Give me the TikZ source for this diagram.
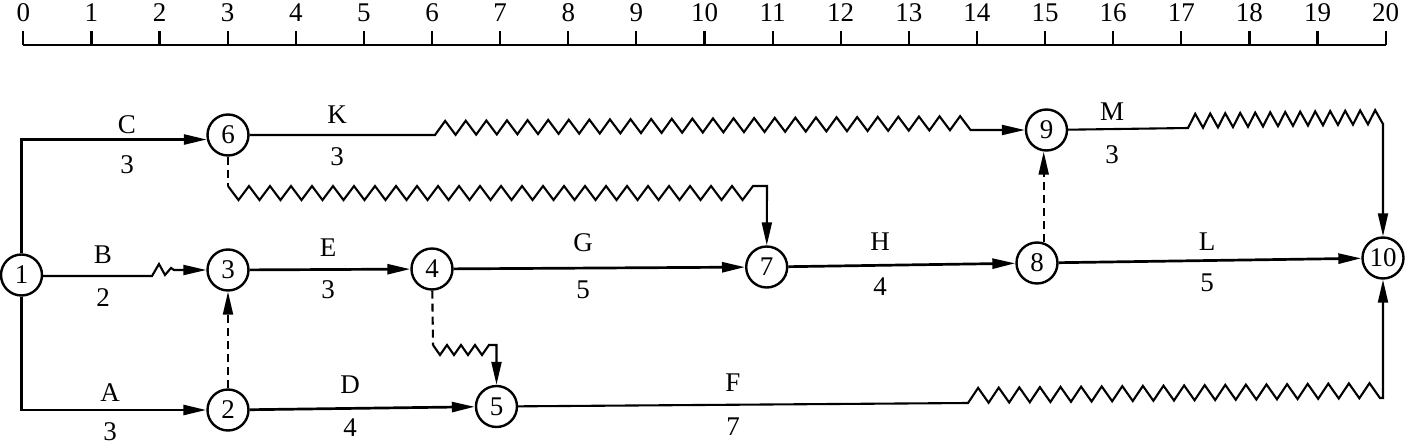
\documentclass[tikz,border=0pt]{standalone}
\usepackage{fontspec}
\setmainfont{Liberation Serif}
\usetikzlibrary{arrows.meta,decorations}
\pgfdeclaredecoration{updown}{initial}{
  \state{initial}[width=\pgfdecorationsegmentlength]{
    \pgfpathlineto{\pgfqpoint{0.5\pgfdecorationsegmentlength}{\pgfdecorationsegmentamplitude}}
    \pgfpathlineto{\pgfqpoint{\pgfdecorationsegmentlength}{0pt}}
  }
  \state{final}{\pgfpathlineto{\pgfpointdecoratedpathlast}}
}
\tikzset{
  nd/.style={circle,draw,line width=1.2pt,minimum size=20.5pt,inner sep=0pt,font=\fontsize{13.5}{15}\selectfont},
  lbl/.style={inner sep=0pt,font=\fontsize{13.5}{15}\selectfont},
  thickln/.style={line width=1.35pt},
  thinln/.style={line width=1.05pt},
  arr/.style={-{Triangle[length=11.5pt,width=5pt]}},
  dsh/.style={dash pattern=on 4pt off 2.5pt},
}
\begin{document}
\begin{tikzpicture}[x=0.5pt,y=-0.5pt,line join=miter]
\useasboundingbox (0,0) rectangle (1405,445);
% time axis
\draw[line width=1.3pt] (23.3,45) -- (1385.7,45);
\foreach \i in {0,...,20}{
  \draw[line width=1.1pt] ({23.3+68.12*\i},31) -- ({23.3+68.12*\i},45);
  \node[lbl] (t\i) at ({23.3+68.12*\i},13) {\i};
}
% nodes
\node[nd] (n1) at (21.5,275) {1};
\node[nd] (n6) at (228,135) {6};
\node[nd] (n3) at (228,270) {3};
\node[nd] (n2) at (228,410) {2};
\node[nd] (n4) at (432,269) {4};
\node[nd] (n5) at (496.5,406.5) {5};
\node[nd] (n7) at (766.7,267) {7};
\node[nd] (n8) at (1037,263) {8};
\node[nd] (n9) at (1046.5,130) {9};
\node[nd] (n10) at (1383,258) {10};
% helper coordinates
\coordinate (b1) at (152,276);
\coordinate (b2) at (174,270);
\coordinate (k1) at (435,135);
\coordinate (k2) at (975,130);
\coordinate (m1) at (1188,128);
\coordinate (m2) at (1383,124);
\coordinate (f1) at (968,403);
\coordinate (f2) at (1383,398);
\coordinate (c1) at (228,186);
\coordinate (c2) at (767,186);
\coordinate (d1) at (433,345);
\coordinate (d2) at (496.5,345);
% activities
\draw[thickln,arr] (n1) |- (n6.192);
\draw[thickln,arr] (n1) |- (n2);
\draw[thinln,arr] (n1.east |- b1) -- (b1) -- (159,264) -- (165,275) -- (171,268) -- (b2) -- (n3);
\draw[thickln,arr] (n3) -- (n4);
\draw[thickln,arr] (n4) -- (n7);
\draw[thickln,arr] (n7) -- (n8);
\draw[thickln,arr] (n8) -- (n10);
\draw[thickln,arr] (n2) -- (n5);
\draw[thinln,arr] (n6) -- (k1) decorate[decoration={updown,segment length=10.3pt,amplitude=7pt}] {-- (k2)} -- (n9);
\draw[thinln,arr] (n9) -- (m1) decorate[decoration={updown,segment length=7.5pt,amplitude=7pt}] {-- (m2)} -- (n10);
\draw[thinln,arr] (n5) -- (f1) decorate[decoration={updown,segment length=10.3pt,amplitude=7.5pt}] {-- (f2)} -- (n10);
% dummy activities
\draw[thinln,dsh,arr] (n2) -- (n3);
\draw[thinln,dsh,arr] (n8.72) -- (n8.72 |- n9.south);
\draw[thinln,dsh] (n6) -- (c1);
\draw[thinln,arr] (c1) decorate[decoration={updown,segment length=10.5pt,amplitude=-7pt}] {-- (c2)} -- (n7);
\draw[thinln,dsh] (n4) -- (d1);
\draw[thinln,arr] (d1) decorate[decoration={updown,segment length=7pt,amplitude=-5pt}] {-- (d2)} -- (n5);
% labels
\node[lbl] (lC) at (127,125) {C};   \node[lbl] (lC3) at (127,165) {3};
\node[lbl] (lK) at (337,115) {K};   \node[lbl] (lK3) at (337,157) {3};
\node[lbl] (lM) at (1112,112) {M};  \node[lbl] (lM3) at (1112,155) {3};
\node[lbl] (lB) at (103,255) {B};   \node[lbl] (lB2) at (103,298) {2};
\node[lbl] (lE) at (328,248) {E};   \node[lbl] (lE3) at (328,290) {3};
\node[lbl] (lG) at (583,243) {G};   \node[lbl] (lG5) at (583,290) {5};
\node[lbl] (lH) at (880,242) {H};   \node[lbl] (lH4) at (880,287) {4};
\node[lbl] (lL) at (1207,242) {L};  \node[lbl] (lL5) at (1207,283) {5};
\node[lbl] (lA) at (110,393) {A};   \node[lbl] (lA3) at (110,432) {3};
\node[lbl] (lD) at (350,385) {D};   \node[lbl] (lD4) at (350,428) {4};
\node[lbl] (lF) at (733,383) {F};   \node[lbl] (lF7) at (733,427) {7};
\end{tikzpicture}
\end{document}
